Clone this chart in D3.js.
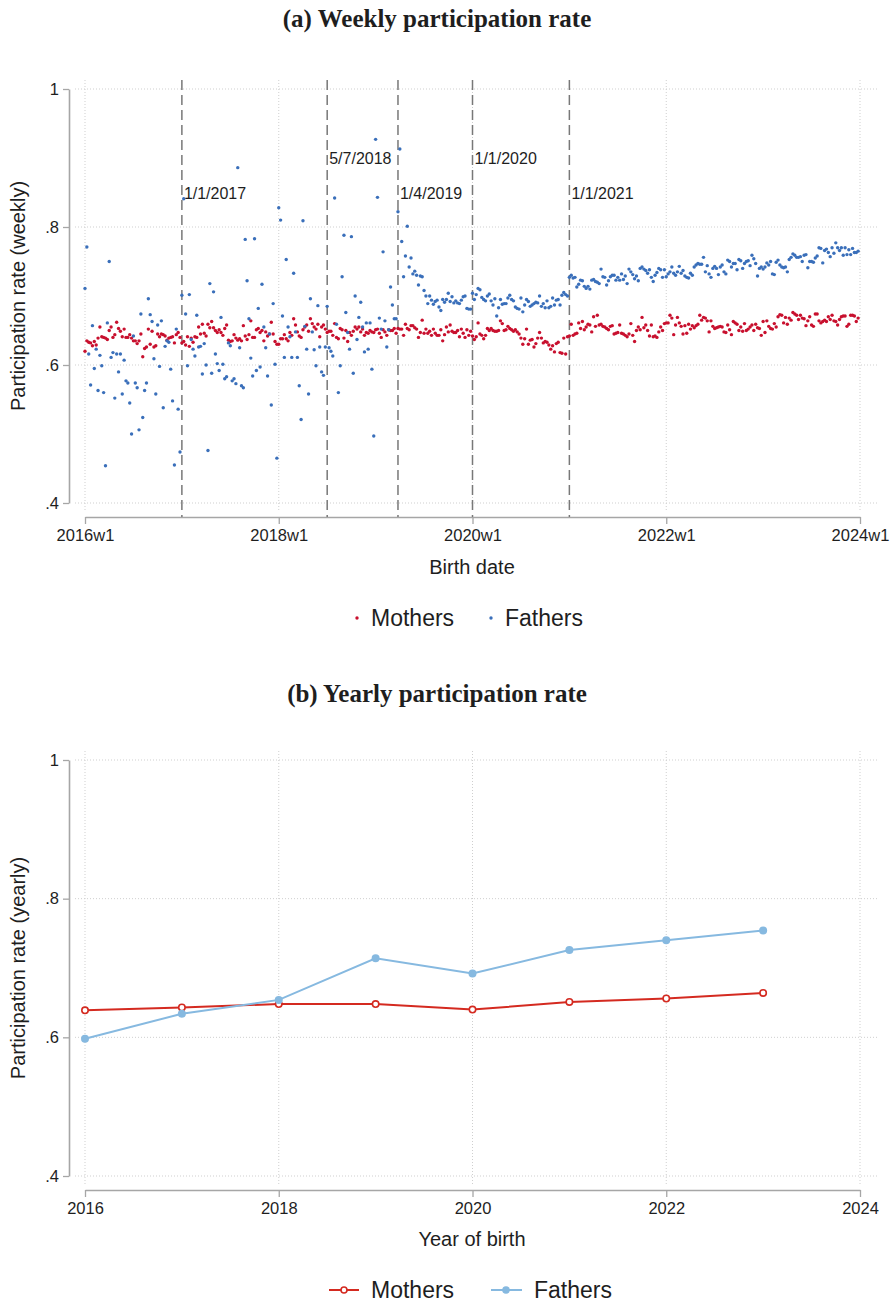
<!DOCTYPE html>
<html>
<head>
<meta charset="utf-8">
<script src="https://cdn.jsdelivr.net/npm/d3@7"></script>
<style>
  body { margin: 0; background: #fff; }
  svg { display: block; background: #fff; }
  text { font-family: "Liberation Sans", Arial, sans-serif; fill: #1e1e1e; }
  .title { font-family: "Liberation Serif", "Times New Roman", serif; font-weight: bold; font-size: 25px; }
  .tick text { font-size: 16.5px; fill: #1e1e1e; }
  .axis-title { font-size: 20px; }
  .legend { font-size: 23px; }
  .event-label { font-size: 16px; }
</style>
</head>
<body>
<svg id="chart" width="893" height="1302"></svg>
<script>
// weekly participation rates, 52 weeks per year (2016w1 .. 2023w52)
const mothers2016 = [.620,.635,.633,.632,.628,.634,.629,.639,.655,.641, .640,.639,.637,.650,.655,.640,.644,.662,.653,.649, .641,.652,.640,.640,.644,.639,.635,.635,.631,.635, .645,.612,.624,.626,.652,.630,.649,.626,.628,.645, .641,.645,.644,.642,.636,.639,.640,.641,.632,.644, .647,.640];
const mothers2017 = [.632,.634,.629,.641,.627,.639,.633,.641,.640,.655, .645,.659,.646,.642,.659,.654,.663,.654,.650,.647, .651,.647,.643,.653,.658,.636,.634,.635,.644,.639, .636,.638,.635,.657,.642,.637,.644,.664,.640,.640, .651,.653,.647,.650,.635,.648,.642,.645,.662,.645, .634,.630];
const mothers2018 = [.630,.638,.638,.644,.638,.635,.647,.643,.667,.658, .648,.642,.640,.651,.655,.658,.649,.667,.660,.655, .652,.659,.641,.655,.658,.652,.647,.649,.649,.643, .660,.640,.638,.653,.651,.639,.650,.634,.647,.643, .649,.655,.652,.655,.648,.652,.643,.647,.646,.650, .648,.647];
const mothers2019 = [.651,.652,.646,.640,.651,.648,.643,.651,.650,.650, .653,.646,.653,.652,.652,.643,.659,.653,.651,.657, .657,.654,.652,.640,.647,.665,.646,.652,.646,.649, .643,.652,.646,.643,.643,.651,.635,.644,.655,.648, .658,.649,.647,.647,.650,.641,.652,.646,.640,.651, .643,.649];
const mothers2020 = [.642,.637,.641,.661,.645,.643,.638,.643,.653,.650, .653,.650,.649,.649,.650,.664,.660,.650,.651,.656, .653,.651,.649,.651,.648,.645,.639,.630,.638,.652, .630,.636,.637,.626,.631,.639,.647,.639,.632,.634, .633,.629,.623,.628,.619,.631,.633,.618,.617,.639, .616,.641];
const mothers2021 = [.642,.659,.643,.645,.646,.661,.653,.663,.651,.655, .659,.658,.648,.670,.656,.672,.658,.659,.656,.655, .653,.651,.656,.657,.645,.646,.647,.658,.646,.645, .643,.641,.645,.660,.643,.634,.650,.655,.651,.669, .654,.658,.650,.642,.658,.641,.642,.640,.648,.655, .650,.660];
const mothers2022 = [.661,.661,.672,.668,.644,.658,.669,.661,.656,.645, .657,.646,.659,.652,.657,.654,.657,.659,.672,.665, .669,.668,.664,.648,.664,.656,.653,.654,.655,.656, .655,.648,.647,.658,.651,.644,.663,.661,.659,.650, .655,.649,.660,.650,.652,.655,.658,.650,.659,.654, .653,.643];
const mothers2023 = [.663,.647,.664,.656,.653,.652,.660,.655,.670,.673, .672,.661,.669,.659,.668,.665,.676,.674,.672,.666, .672,.668,.667,.657,.664,.670,.658,.656,.674,.674, .664,.661,.663,.665,.663,.670,.666,.672,.664,.663, .658,.666,.670,.671,.671,.656,.659,.672,.672,.671, .663,.668];

const fathers2016 = [.711,.771,.616,.571,.657,.595,.623,.563,.614,.599, .560,.454,.661,.750,.611,.618,.552,.616,.590,.616, .558,.607,.577,.574,.545,.500,.642,.574,.567,.506, .674,.524,.563,.574,.696,.673,.663,.609,.558,.658, .598,.664,.538,.627,.635,.633,.594,.548,.455,.652, .536,.474];
const fathers2017 = [.701,.841,.674,.599,.702,.637,.623,.613,.672,.626, .627,.587,.631,.600,.476,.718,.588,.706,.616,.602, .592,.669,.601,.580,.583,.632,.628,.577,.580,.573, .886,.625,.570,.567,.782,.722,.667,.610,.584,.783, .592,.682,.597,.717,.655,.625,.584,.645,.542,.689, .601,.465];
const fathers2018 = [.828,.810,.671,.611,.753,.655,.641,.611,.733,.648, .611,.570,.521,.809,.656,.623,.558,.696,.648,.622, .599,.686,.626,.590,.585,.626,.685,.625,.620,.613, .842,.659,.560,.599,.728,.788,.676,.647,.623,.786, .588,.700,.637,.669,.691,.655,.619,.661,.623,.661, .594,.497];
const fathers2019 = [.927,.843,.668,.652,.764,.664,.626,.651,.713,.687, .667,.667,.822,.913,.779,.728,.758,.801,.742,.755, .732,.736,.730,.716,.729,.728,.708,.700,.689,.700, .694,.688,.692,.694,.684,.679,.695,.691,.695,.704, .692,.699,.690,.693,.690,.689,.694,.699,.700,.682, .681,.681];
const fathers2020 = [.704,.695,.702,.711,.709,.698,.695,.693,.700,.703, .693,.687,.696,.671,.683,.695,.688,.689,.689,.697, .701,.695,.693,.684,.682,.681,.697,.677,.687,.695, .692,.685,.687,.689,.691,.690,.700,.685,.689,.683, .693,.683,.685,.697,.687,.694,.695,.687,.701,.705, .702,.700];
const fathers2021 = [.727,.730,.726,.727,.713,.717,.723,.722,.714,.711, .714,.710,.723,.724,.721,.720,.718,.739,.728,.727, .716,.722,.728,.730,.730,.723,.727,.723,.732,.724, .729,.718,.739,.735,.731,.725,.729,.722,.740,.742, .739,.737,.733,.738,.727,.721,.730,.734,.740,.738, .727,.738];
const fathers2022 = [.728,.732,.735,.742,.733,.730,.735,.743,.733,.737, .729,.727,.726,.733,.730,.742,.745,.747,.746,.746, .756,.735,.744,.732,.727,.740,.743,.740,.731,.742, .745,.735,.732,.752,.750,.742,.747,.747,.738,.753, .751,.740,.747,.750,.751,.744,.759,.754,.747,.729, .740,.742];
const fathers2023 = [.739,.742,.748,.745,.750,.732,.731,.749,.752,.745, .742,.741,.742,.735,.753,.756,.761,.759,.756,.756, .757,.750,.759,.760,.741,.750,.750,.749,.755,.758, .770,.769,.748,.766,.768,.763,.757,.770,.762,.777, .770,.766,.770,.759,.770,.760,.767,.760,.769,.763, .763,.765];

const weekTicks = [0, 104, 208, 312, 416];
const weekTickLabels = ["2016w1", "2018w1", "2020w1", "2022w1", "2024w1"];
const reformWeeks = [52, 130, 168, 208, 260];
const reformLabels = ["1/1/2017", "5/7/2018", "1/4/2019", "1/1/2020", "1/1/2021"];

// yearly participation rates
const years = [2016, 2017, 2018, 2019, 2020, 2021, 2022, 2023];
const mothersYearly = [.639, .643, .648, .648, .640, .651, .656, .664];
const fathersYearly = [.598, .634, .654, .714, .692, .726, .740, .754];
const yearTicks = [2016, 2018, 2020, 2022, 2024];

const rateTicks = [.4, .6, .8, 1];

const RED = "#c8102e", BLUE = "#3a6fba";
const RED_LINE = "#d42a20", BLUE_LINE = "#86b9e0";

const mothersWeekly = [].concat(mothers2016, mothers2017, mothers2018, mothers2019,
  mothers2020, mothers2021, mothers2022, mothers2023);
const fathersWeekly = [].concat(fathers2016, fathers2017, fathers2018, fathers2019,
  fathers2020, fathers2021, fathers2022, fathers2023);

const svg = d3.select("#chart");
const rateFmt = d => d === 1 ? "1" : d3.format(".1f")(d).replace(/^0/, "");

// shared frame: gridlines, axes, titles
function drawFrame(opts) {
  const { x, y, xTicks, xFmt, top, bottom, axisY, title, titleY, yTitle, xTitle, xTitleY } = opts;
  const g = svg.append("g");

  g.append("text").attr("class", "title")
    .attr("x", 437).attr("y", titleY).attr("text-anchor", "middle").text(title);

  g.selectAll(".hgrid").data(rateTicks).enter().append("line")
    .attr("x1", 75).attr("x2", 877)
    .attr("y1", d => y(d)).attr("y2", d => y(d))
    .attr("stroke", "#cfcfcf").attr("stroke-width", 1).attr("stroke-dasharray", "1,2");

  g.selectAll(".vgrid").data(xTicks).enter().append("line")
    .attr("x1", d => x(d)).attr("x2", d => x(d))
    .attr("y1", top - 9).attr("y2", bottom + 9)
    .attr("stroke", "#cfcfcf").attr("stroke-width", 1).attr("stroke-dasharray", "1,2");

  const ya = g.append("g").attr("transform", "translate(69,0)")
    .call(d3.axisLeft(y).tickValues(rateTicks).tickFormat(rateFmt)
      .tickSize(6).tickSizeOuter(0).tickPadding(4));

  const xa = g.append("g").attr("transform", `translate(0,${axisY})`)
    .call(d3.axisBottom(x).tickValues(xTicks).tickFormat(xFmt)
      .tickSize(7).tickSizeOuter(0).tickPadding(5));

  [ya, xa].forEach(a => {
    a.select(".domain").attr("stroke", "#a6a6a6").attr("stroke-width", 1.6);
    a.selectAll(".tick line").attr("stroke", "#a6a6a6").attr("stroke-width", 1.3);
    a.selectAll(".tick text").attr("fill", "#1e1e1e");
  });

  g.append("text").attr("class", "axis-title")
    .attr("transform", `translate(25,${(top + bottom) / 2}) rotate(-90)`)
    .attr("text-anchor", "middle").text(yTitle);

  g.append("text").attr("class", "axis-title")
    .attr("x", 472).attr("y", xTitleY).attr("text-anchor", "middle").text(xTitle);

  return g;
}

// ---------- (a) weekly ----------
const xW = d3.scaleLinear().domain([0, 416]).range([85, 860]);
const yA = d3.scaleLinear().domain([.4, 1]).range([503, 89]);

const gA = drawFrame({
  x: xW, y: yA, xTicks: weekTicks, xFmt: (d, i) => weekTickLabels[i],
  top: 89, bottom: 503, axisY: 517,
  title: "(a) Weekly participation rate", titleY: 27,
  yTitle: "Participation rate (weekly)",
  xTitle: "Birth date", xTitleY: 574
});

gA.selectAll(".reform").data(reformWeeks).enter().append("line")
  .attr("x1", d => xW(d)).attr("x2", d => xW(d))
  .attr("y1", 80).attr("y2", 517)
  .attr("stroke", "#787878").attr("stroke-width", 1.5).attr("stroke-dasharray", "10,5");

gA.selectAll(".event-label").data(reformWeeks).enter().append("text")
  .attr("class", "event-label")
  .attr("x", d => xW(d) + 2)
  .attr("y", (d, i) => yA(i % 2 ? .9 : .85) + 6)
  .text((d, i) => reformLabels[i]);

gA.append("g").selectAll("circle").data(mothersWeekly).enter().append("circle")
  .attr("cx", (d, i) => xW(i)).attr("cy", d => yA(d)).attr("r", 1.7).attr("fill", RED);

gA.append("g").selectAll("circle").data(fathersWeekly).enter().append("circle")
  .attr("cx", (d, i) => xW(i)).attr("cy", d => yA(d)).attr("r", 1.7).attr("fill", BLUE);

const legA = gA.append("g");
legA.append("circle").attr("cx", 357).attr("cy", 618).attr("r", 1.7).attr("fill", RED);
legA.append("text").attr("class", "legend").attr("x", 371).attr("y", 626).text("Mothers");
legA.append("circle").attr("cx", 491).attr("cy", 618).attr("r", 1.7).attr("fill", BLUE);
legA.append("text").attr("class", "legend").attr("x", 505).attr("y", 626).text("Fathers");

// ---------- (b) yearly ----------
const xY = d3.scaleLinear().domain([2016, 2024]).range([85, 860]);
const yB = d3.scaleLinear().domain([.4, 1]).range([1176, 760]);

const gB = drawFrame({
  x: xY, y: yB, xTicks: yearTicks, xFmt: d3.format("d"),
  top: 760, bottom: 1176, axisY: 1190,
  title: "(b) Yearly participation rate", titleY: 702,
  yTitle: "Participation rate (yearly)",
  xTitle: "Year of birth", xTitleY: 1246
});

const line = d3.line().x((d, i) => xY(years[i])).y(d => yB(d));

gB.append("path").datum(mothersYearly).attr("d", line)
  .attr("fill", "none").attr("stroke", RED_LINE).attr("stroke-width", 2);
gB.append("path").datum(fathersYearly).attr("d", line)
  .attr("fill", "none").attr("stroke", BLUE_LINE).attr("stroke-width", 2);

gB.append("g").selectAll("circle").data(mothersYearly).enter().append("circle")
  .attr("cx", (d, i) => xY(years[i])).attr("cy", d => yB(d)).attr("r", 3.2)
  .attr("fill", "#fff").attr("stroke", RED_LINE).attr("stroke-width", 1.6);
gB.append("g").selectAll("circle").data(fathersYearly).enter().append("circle")
  .attr("cx", (d, i) => xY(years[i])).attr("cy", d => yB(d)).attr("r", 4)
  .attr("fill", BLUE_LINE);

const legB = gB.append("g");
legB.append("line").attr("x1", 329).attr("x2", 359).attr("y1", 1290).attr("y2", 1290)
  .attr("stroke", RED_LINE).attr("stroke-width", 2);
legB.append("circle").attr("cx", 344).attr("cy", 1290).attr("r", 3)
  .attr("fill", "#fff").attr("stroke", RED_LINE).attr("stroke-width", 1.6);
legB.append("text").attr("class", "legend").attr("x", 371).attr("y", 1298).text("Mothers");
legB.append("line").attr("x1", 491).attr("x2", 522).attr("y1", 1290).attr("y2", 1290)
  .attr("stroke", BLUE_LINE).attr("stroke-width", 2);
legB.append("circle").attr("cx", 506).attr("cy", 1290).attr("r", 3.8).attr("fill", BLUE_LINE);
legB.append("text").attr("class", "legend").attr("x", 534).attr("y", 1298).text("Fathers");
</script>
</body>
</html>
